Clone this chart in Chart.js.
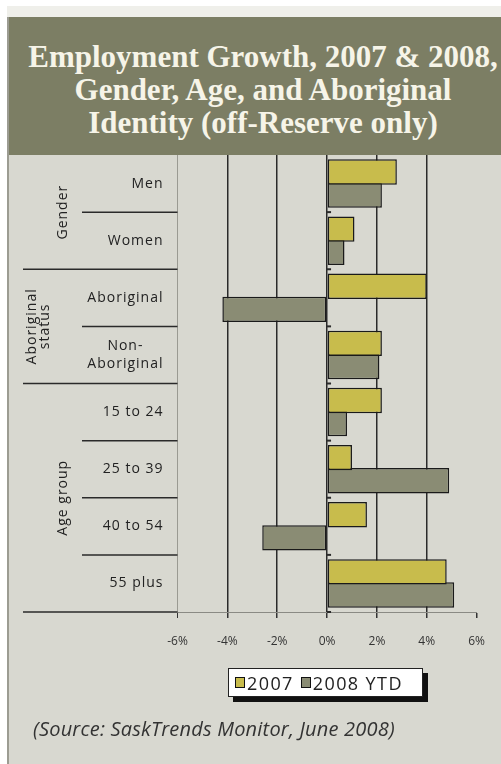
<!DOCTYPE html>
<html>
<head>
<meta charset="utf-8">
<script src="https://cdn.jsdelivr.net/npm/chart.js@4/dist/chart.umd.min.js"></script>
<style>
  html, body { margin:0; padding:0; background:#ffffff; width:501px; height:764px; overflow:hidden; }
  #strip { position:absolute; left:7px; top:6px; width:494px; height:11px; background:#efefea; }
  #panel { position:absolute; left:7px; top:17px; width:492px; height:747px; background:#d8d8d0; border-left:2px solid #9c9c92; }
  #header { position:absolute; left:9px; top:17px; width:492px; height:138px; background:#7c7e64; overflow:hidden; }
  #title { position:absolute; left:263px; top:40px; transform:translateX(-50%); color:#f6f4e8;
            font-family:"Liberation Serif", serif; font-weight:bold; font-size:31px; line-height:33px; text-align:center;
            white-space:nowrap; }
  #chartwrap { position:absolute; left:0; top:0; width:501px; height:764px; }
  #legend { position:absolute; left:228px; top:668px; width:195px; height:29px; background:#ffffff; border:1px solid #222;
            box-shadow:5px 5px 0 #111; box-sizing:border-box; font-family:"Open Sans", sans-serif; font-size:18px;
            color:#222; display:flex; align-items:center; padding-left:6px; letter-spacing:1.4px; }
  #legend .sw { display:inline-block; width:8px; height:9px; border:1px solid #111; margin-right:2px; position:relative; top:-2px; }
  #legend .it { margin-right:7px; white-space:nowrap; }
  #source { position:absolute; left:33px; top:715px; font-family:"Open Sans", sans-serif; font-style:italic; font-size:20px; color:#333; white-space:nowrap; letter-spacing:0.2px; }
</style>
</head>
<body>
<div id="strip"></div>
<div id="panel"></div>
<div id="header"></div>
<div id="title">Employment Growth, 2007 &amp; 2008,<br>Gender, Age, and Aboriginal<br>Identity (off-Reserve only)</div>
<div id="chartwrap"><canvas id="c" width="501" height="764"></canvas></div>
<div id="legend"></div>
<div id="source">(Source: SaskTrends Monitor, June 2008)</div>
<script>
// ---- data ----
const categories = ["Men", "Women", "Aboriginal", ["Non-", "Aboriginal"], "15 to 24", "25 to 39", "40 to 54", "55 plus"];
const groups = [
  { name: ["Gender"], from: 0, to: 1 },
  { name: ["Aboriginal", "status"], from: 2, to: 3 },
  { name: ["Age group"], from: 4, to: 7 }
];
const seriesNames = ["2007", "2008 YTD"];
const values2007 = [2.8, 1.1, 4.0, 2.2, 2.2, 1.0, 1.6, 4.8];
const values2008 = [2.2, 0.7, -4.2, 2.1, 0.8, 4.9, -2.6, 5.1];
const xTicks = [-6, -4, -2, 0, 2, 4, 6];
const seriesColors = ["#c8bc4c", "#8a8c74"];

// ---- legend (HTML) ----
const lg = document.getElementById('legend');
seriesNames.forEach((n, i) => {
  const s = document.createElement('span');
  s.className = 'it';
  s.innerHTML = '<span class="sw" style="background:' + seriesColors[i] + '"></span>' + n;
  lg.appendChild(s);
});

const labelFont = '14px "Open Sans", sans-serif';

const sidePlugin = {
  id: 'side',
  afterDraw(chart) {
    const ctx = chart.ctx;
    const y = chart.scales.y, x = chart.scales.x;
    const area = chart.chartArea;
    const n = categories.length;
    const band = (area.bottom - area.top) / n;
    const bound = i => y.getPixelForValue(i) - band / 2; // top boundary of category i
    ctx.save();
    // category labels
    ctx.font = labelFont;
    ctx.letterSpacing = '1px';
    ctx.fillStyle = '#222';
    ctx.textBaseline = 'middle';
    categories.forEach((lab, i) => {
      const cy = y.getPixelForValue(i);
      const rightX = area.left - 14;
      if (Array.isArray(lab)) {
        const w = Math.max(...lab.map(t => ctx.measureText(t).width));
        const cx = rightX - w / 2;
        ctx.textAlign = 'center';
        const lh = 18;
        lab.forEach((t, k) => ctx.fillText(t, cx, cy + (k - (lab.length - 1) / 2) * lh));
      } else {
        ctx.textAlign = 'right';
        ctx.fillText(lab, rightX, cy);
      }
    });
    // separators
    ctx.strokeStyle = '#2a2a2a';
    ctx.lineWidth = 1.5;
    const groupEnds = new Set(groups.map(g => g.to));
    for (let i = 0; i < n; i++) {
      const yy = bound(i) + band;
      const startX = groupEnds.has(i) ? 23 : 82;
      ctx.beginPath();
      ctx.moveTo(startX, yy);
      ctx.lineTo(area.left, yy);
      ctx.stroke();
    }
    // small ticks on zero line
    const x0 = x.getPixelForValue(0);
    ctx.lineWidth = 2;
    for (let i = 1; i <= n; i++) {
      const yy = bound(i - 1) + band;
      ctx.beginPath();
      ctx.moveTo(x0, yy);
      ctx.lineTo(x0 + 4, yy);
      ctx.stroke();
    }
    // group labels (rotated)
    ctx.fillStyle = '#222';
    ctx.textAlign = 'center';
    ctx.textBaseline = 'middle';
    groups.forEach(g => {
      const cy = (bound(g.from) + bound(g.to) + band) / 2;
      const lines = g.name;
      lines.forEach((t, k) => {
        const cx = lines.length > 1 ? (k === 0 ? 32 : 45) : 63;
        ctx.save();
        ctx.translate(cx, cy);
        ctx.rotate(-Math.PI / 2);
        ctx.fillText(t, 0, 0);
        ctx.restore();
      });
    });
    ctx.restore();
  }
};

new Chart(document.getElementById('c'), {
  type: 'bar',
  data: {
    labels: categories,
    datasets: [
      { label: seriesNames[0], data: values2007, backgroundColor: seriesColors[0], borderColor: '#1a1a1a', borderWidth: 1.5, borderSkipped: false },
      { label: seriesNames[1], data: values2008, backgroundColor: seriesColors[1], borderColor: '#1a1a1a', borderWidth: 1.5, borderSkipped: false }
    ]
  },
  options: {
    indexAxis: 'y',
    responsive: false,
    animation: false,
    devicePixelRatio: 1,
    layout: { padding: { left: 177.5, right: 20.3, top: 155, bottom: 112 } },
    datasets: { bar: { categoryPercentage: 0.81, barPercentage: 1.1 } },
    plugins: { legend: { display: false }, tooltip: { enabled: false }, title: { display: false } },
    scales: {
      x: {
        min: -6, max: 6,
        afterBuildTicks(scale) { scale.ticks = xTicks.map(v => ({ value: v })); },
        afterFit(scale) { scale.height = 40; },
        grid: {
          color: ctx => ctx.tick && ctx.tick.value === 6 ? 'rgba(0,0,0,0)' : (ctx.tick && ctx.tick.value === -6 ? '#9a9a92' : '#2a2a2a'),
          lineWidth: ctx => ctx.tick && ctx.tick.value === -6 ? 1 : 1.5,
          tickColor: '#333',
          tickLength: 6,
          drawOnChartArea: true
        },
        border: { display: true, color: '#8a8a84', width: 1 },
        ticks: {
          callback: v => v + '%',
          font: { family: '"Open Sans", sans-serif', size: 12 },
          color: '#333',
          padding: 16,
          maxRotation: 0
        }
      },
      y: {
        display: false
      }
    }
  },
  plugins: [sidePlugin]
});
</script>
</body>
</html>
